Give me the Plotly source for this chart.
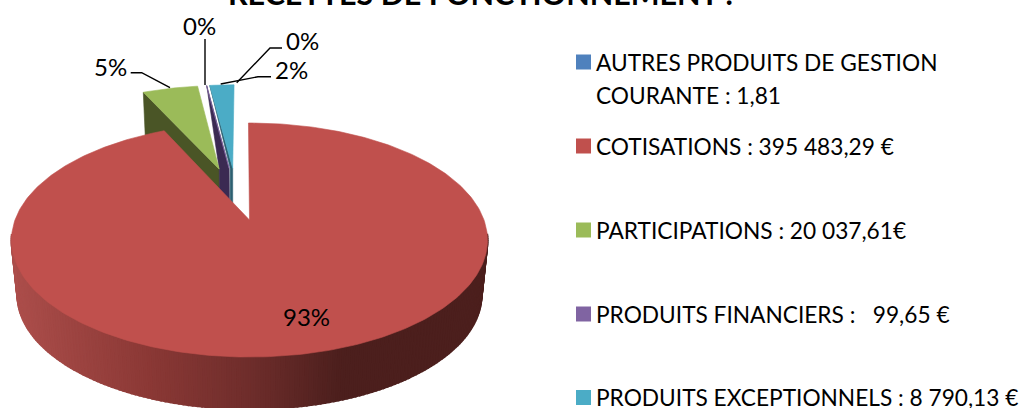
import math
import plotly.graph_objects as go

categories = ["AUTRES PRODUITS DE GESTION<br>COURANTE : 1,81",
              "COTISATIONS : 395 483,29 €",
              "PARTICIPATIONS : 20 037,61€",
              "PRODUITS FINANCIERS :   99,65 €",
              "PRODUITS EXCEPTIONNELS : 8 790,13 €"]
values = [1.81, 395483.29, 20037.61, 99.65, 8790.13]
title_text = "RECETTES DE FONCTIONNEMENT :"

COLORS = ["#4f81bd", "#c0504d", "#9bbb59", "#8064a2", "#4bacc6"]
FONT = "Lato, Carlito, Calibri, sans-serif"
FS = 24
LEG_FS = 22.7

# tilted-pie projection: unit-circle plane -> page pixels
AX, BY, KP, Y0 = 234.5, 113.6, 0.171, 220.0
DEPTH_CY, DEPTH_S = 295.0, 0.975
ELL_CY = 240.0
ROT = -0.3
EXPLODE = 0.25
CENTRE = (-0.0625, -0.245)
SLICE_XC = [250.0, 249.5, 248.0, 250.0, 250.0]


def project(u, v, xc):
    w = 1 - KP * v
    return xc + AX * u / w, Y0 + BY * v / w


def lower(p, xc):
    return xc + (p[0] - xc) * DEPTH_S, DEPTH_CY + (p[1] - ELL_CY) * DEPTH_S


total = sum(values)
fracs = [v / total for v in values]
slices = []
c = 0.0
for f in fracs:
    a0 = math.radians(ROT + c * 360)
    a1 = math.radians(ROT + (c + f) * 360)
    c += f
    slices.append((a0, a1))


def slice_geom(i):
    a0, a1 = slices[i]
    if i == 1:
        cu, cv = 0.0, 0.0
    else:
        m = (a0 + a1) / 2
        cu = CENTRE[0] + EXPLODE * math.sin(m)
        cv = CENTRE[1] - EXPLODE * math.cos(m)
    xc = SLICE_XC[i]
    n = max(2, int((a1 - a0) / math.radians(1.0)))
    arc = []
    for k in range(n + 1):
        a = a0 + (a1 - a0) * k / n
        arc.append(project(cu + math.sin(a), cv - math.cos(a), xc))
    return project(cu, cv, xc), arc, xc


def poly(fig, pts, color, lw=0.6):
    xs = [p[0] for p in pts] + [pts[0][0]]
    ys = [p[1] for p in pts] + [pts[0][1]]
    fig.add_trace(go.Scatter(x=xs, y=ys, mode="lines", fill="toself", fillcolor=color,
                             line=dict(color=color, width=lw), hoverinfo="skip", showlegend=False))


def mix(c1, c2, t):
    return "rgb(%d,%d,%d)" % tuple(round(a + (b - a) * t) for a, b in zip(c1, c2))


def wall_color(x):
    stops = [(11, (172, 78, 75)), (60, (160, 70, 67)), (150, (138, 56, 53)),
             (250, (110, 45, 43)), (340, (76, 31, 29)), (488, (76, 31, 29))]
    for (x0, c0), (x1, c1) in zip(stops, stops[1:]):
        if x <= x1:
            return mix(c0, c1, max(0, (x - x0) / (x1 - x0)))
    return mix(stops[-1][1], stops[-1][1], 0)


fig = go.Figure()

# exploded small slices
ag, arc_g, xg = slice_geom(2)
af, arc_f, xf = slice_geom(3)
at, arc_t, xt = slice_geom(4)

# green radial wall
poly(fig, [arc_g[0], ag, lower(ag, xg), lower(arc_g[0], xg)], "#4a5526")
# purple sliver wall
poly(fig, [arc_f[-1], ag, lower(ag, xg), lower(af, xf), af], "#3b2a52")
# teal wall
poly(fig, [arc_t[0], (at[0] - 2.5, at[1]), (at[0] - 2.5, at[1] + 40), (at[0], at[1] + 40), at], "#2c5f70")

poly(fig, [ag] + arc_g, COLORS[2])
poly(fig, [af] + arc_f, COLORS[3])
poly(fig, [at] + arc_t, COLORS[4])

# large slice: wall segments then face
ar, arc_r, xr = slice_geom(1)
for p, q in zip(arc_r, arc_r[1:]):
    if max(p[1], q[1]) < ELL_CY - 5:
        continue
    poly(fig, [p, q, lower(q, xr), lower(p, xr)], wall_color((p[0] + q[0]) / 2), lw=2)
poly(fig, [ar] + arc_r, COLORS[1])

# leader lines
leaders = [([130.7, 141.7, 170], [72.7, 72.7, 87.7]),
           ([205, 205], [39, 85]),
           ([282, 270, 236.7], [48, 48, 82.7]),
           ([271, 258, 220.7], [76.7, 76.7, 84])]
for lx, ly in leaders:
    fig.add_trace(go.Scatter(x=lx, y=ly, mode="lines", line=dict(color="black", width=1.4),
                             hoverinfo="skip", showlegend=False))

# data labels
pct = [f"{round(100 * v / total)}%" for v in values]
label_pos = [(199, 25), (306, 316), (110, 66), (302, 40), (291, 69)]
for t, (lx, ly) in zip(pct, label_pos):
    fig.add_annotation(x=lx, y=ly, text=t, showarrow=False, xanchor="center", yanchor="middle",
                       font=dict(family=FONT, size=FS, color="black"))

# legend
rows = [62, 146, 230, 314, 397.5]
LINE_GAP = 33
fig.add_trace(go.Scatter(x=[583.5] * 5, y=rows, mode="markers",
                         marker=dict(symbol="square", size=15, color=COLORS, line=dict(width=0)),
                         hoverinfo="skip", showlegend=False))
for t, ry in zip(categories, rows):
    for j, line in enumerate(t.split("<br>")):
        fig.add_annotation(x=597, y=ry + j * LINE_GAP, text=line, showarrow=False, xanchor="left",
                           yanchor="middle", borderpad=0, borderwidth=0, xshift=-1,
                           font=dict(family=FONT, size=LEG_FS, color="black"))

# title, cut by the top of the page
fig.add_annotation(x=480, y=0, text=f"<b>{title_text}</b>", showarrow=False, xanchor="center",
                   yanchor="bottom", yshift=-13, font=dict(family=FONT, size=30.5, color="black"))

fig.update_layout(width=1027, height=408, margin=dict(l=0, r=0, t=0, b=0),
                  paper_bgcolor="white", plot_bgcolor="white", showlegend=False,
                  xaxis=dict(range=[0, 1027], visible=False, fixedrange=True),
                  yaxis=dict(range=[408, 0], visible=False, fixedrange=True))
fig.write_html("out.html", config={"displayModeBar": False},
               post_script="document.body.style.margin='0';document.body.style.overflow='hidden';")
